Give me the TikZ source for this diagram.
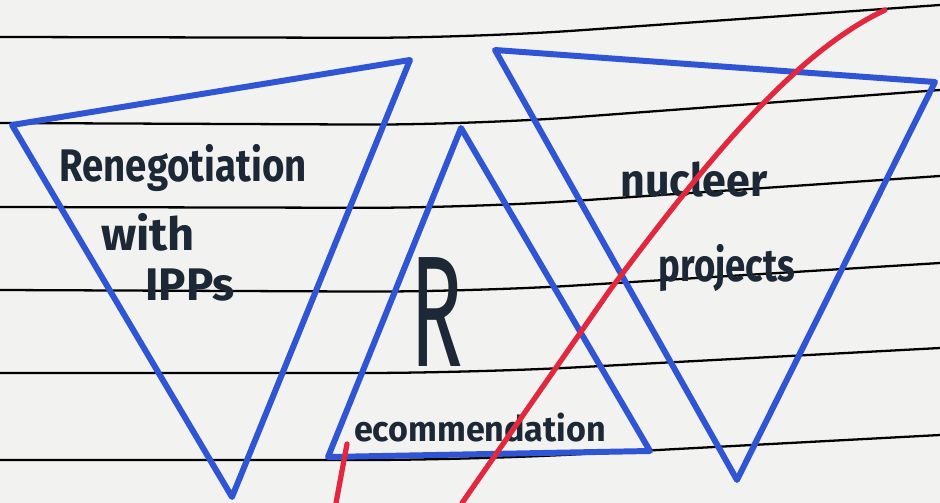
\documentclass[tikz,border=0pt]{standalone}
\usepackage{fontspec}
\setmainfont{Fira Sans}
\usepackage{xcolor}
\definecolor{paper}{HTML}{F2F2F0}
\definecolor{pen}{HTML}{2F55D4}
\definecolor{ink}{HTML}{1C2836}
\definecolor{marker}{HTML}{E2283E}

\begin{document}
\begin{tikzpicture}[
    x=0.02cm, y=-0.02cm,
    rule/.style={draw=black, line width=1.3pt, rounded corners=60pt},
    tri/.style={draw=pen, line width=3.4pt, line join=round, line cap=round},
    hand/.style={text=ink, inner sep=0pt, font=\fontsize{26}{28}\selectfont\bfseries},
    strike/.style={draw=marker, line width=3pt, line cap=round}
]
% Page
\fill[paper] (0,0) rectangle (940,503);
\useasboundingbox (0,0) rectangle (940,503);
% Ruled lines
\foreach \ya/\yb/\yc in {37/38/5, 123/125/90, 207/208/176, 290/292/263, 373/373/348, 460/460/435}
    \draw[rule] (0,\ya) -- (470,\yb) -- (940,\yc);
% Corners
\coordinate (lt) at (12,125);
\coordinate (lr) at (410,60);
\coordinate (lb) at (232,497);
\coordinate (ma) at (461,128);
\coordinate (ml) at (328,457);
\coordinate (mr) at (650,451);
\coordinate (rt) at (495,50);
\coordinate (rr) at (935,82);
\coordinate (rb) at (737,480);
% Triangles
\draw[tri] (lt) -- (lr) -- (lb) -- cycle;
\draw[tri] (ma) -- (mr) -- (ml) -- cycle;
\draw[tri] (rt) -- (rr) -- (rb) -- cycle;
% Labels
\node[hand, xscale=0.84] (reneg) at (183,168) {Renegotiation};
\node[hand, xscale=1.03] (with) at (148,232) {with};
\node[hand, xscale=1.0] (ipps) at (190,285) {IPPs};
\node[hand, xscale=0.55, font=\fontsize{90}{90}\selectfont\mdseries] (bigr) at (437,312) {R};
\node[hand, xscale=0.97, font=\fontsize{20}{22}\selectfont\bfseries] (ecomm) at (480,428) {ecommendation};
\node[hand, xscale=0.94] (nucl) at (694,180) {nucleer};
\node[hand, xscale=0.8] (proj) at (727,268) {projects};
% Crossing out
\coordinate (sa) at (885,10);
\coordinate (sb) at (462,503);
\coordinate (ta) at (347,444);
\coordinate (tb) at (336,503);
\draw[strike] (sa) .. controls (790,55) and (700,170) .. (610,290) -- (sb);
\draw[strike] (ta) -- (tb);
\end{tikzpicture}
\end{document}
